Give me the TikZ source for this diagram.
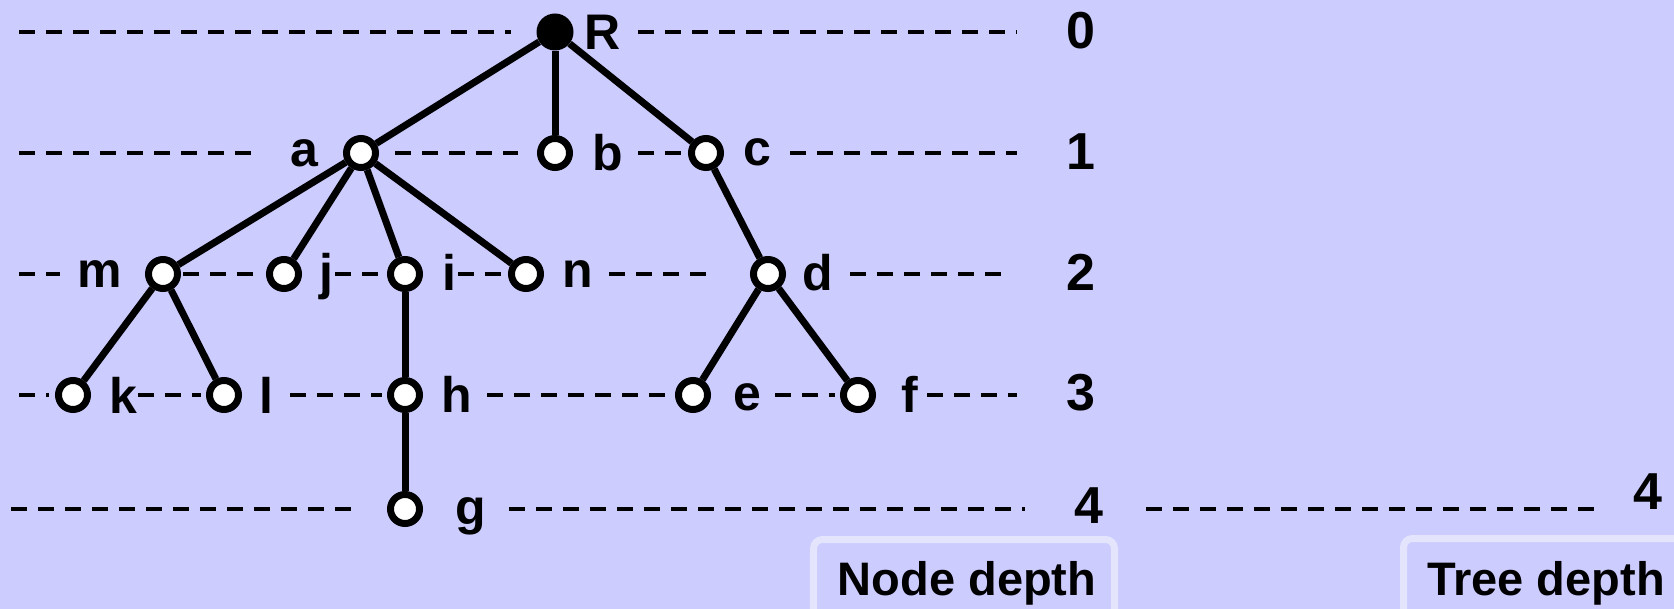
\documentclass[tikz,border=0pt]{standalone}
\usepackage{fontspec}
\setmainfont{Liberation Sans}
\usepackage{tikz}

\definecolor{lavender}{HTML}{CCCCFF}
\definecolor{boxline}{HTML}{E4E4FC}

\begin{document}
\begin{tikzpicture}[x=1pt,y=-1pt,
	vertex/.style={circle,draw,line width=7pt,fill=white,minimum size=29pt,inner sep=0pt},
	root/.style={circle,fill=black,minimum size=37pt,inner sep=0pt},
	lbl/.style={font=\fontsize{50}{60}\selectfont\bfseries,inner sep=0pt},
	depth/.style={font=\fontsize{52}{62}\selectfont\bfseries,inner sep=0pt},
	legend/.style={font=\fontsize{47}{56}\selectfont\bfseries,inner sep=0pt,anchor=base},
	guide/.style={line width=4.5pt,dash pattern=on 16pt off 11pt},
	edge/.style={line width=7pt},
	legendbox/.style={draw=boxline,line width=7pt,rounded corners=9pt,fill=lavender}]
\useasboundingbox (0,0) rectangle (1674,609);
\fill[lavender] (0,0) rectangle (1674,609);
\clip (0,0) rectangle (1674,609);

% dashed level lines
\foreach \y/\xa/\xb in {32/19/511, 32/638/1017,
		153/19/259, 153/395/518, 153/638/683, 153/790/1017,
		274/19/60, 274/183/259, 274/335/382, 274/458/504, 274/609/708, 274/850/1007,
		395/19/49, 395/138/201, 395/290/382, 395/487/680, 395/775/835, 395/927/1017,
		509/11/359, 509/509/1025, 509/1146/1598}
	\draw[guide] (\xa,\y) -- (\xb,\y);

% tree
\path (555,32) node[root] (R) {}
		(361,153) node[vertex] (a) {}
		(555,153) node[vertex] (b) {}
		(706,153) node[vertex] (c) {}
		(163,274) node[vertex] (m) {}
		(284,274) node[vertex] (j) {}
		(405,274) node[vertex] (i) {}
		(526,274) node[vertex] (n) {}
		(768,274) node[vertex] (d) {}
		(73,395) node[vertex] (k) {}
		(224,395) node[vertex] (l) {}
		(405,395) node[vertex] (h) {}
		(693,395) node[vertex] (e) {}
		(858,395) node[vertex] (f) {}
		(405,509) node[vertex] (g) {}
		;

\path (603,32) node[lbl] (labR) {R}
		(304,153) node[lbl] (laba) {a}
		(608,153) node[lbl] (labb) {b}
		(757,152) node[lbl] (labc) {c}
		(100,274) node[lbl] (labm) {m}
		(326,277) node[lbl] (labj) {j}
		(449,272) node[lbl] (labi) {i}
		(578,274) node[lbl] (labn) {n}
		(818,273) node[lbl] (labd) {d}
		(123,395) node[lbl] (labk) {k}
		(266,395) node[lbl] (labl) {l}
		(457,394) node[lbl] (labh) {h}
		(747,397) node[lbl] (labe) {e}
		(910,394) node[lbl] (labf) {f}
		(471,516) node[lbl] (labg) {g}
		;

\draw[edge] (R) -- (a);
\draw[edge] (R) -- (b);
\draw[edge] (R) -- (c);
\draw[edge] (a) -- (m);
\draw[edge] (a) -- (j);
\draw[edge] (a) -- (i);
\draw[edge] (a) -- (n);
\draw[edge] (c) -- (d);
\draw[edge] (m) -- (k);
\draw[edge] (m) -- (l);
\draw[edge] (i) -- (h);
\draw[edge] (h) -- (g);
\draw[edge] (d) -- (e);
\draw[edge] (d) -- (f);

% depth numbers
\path (1081,31) node[depth] (d0) {0}
		(1081,152) node[depth] (d1) {1}
		(1081,272) node[depth] (d2) {2}
		(1081,393) node[depth] (d3) {3}
		(1089,506) node[depth] (d4) {4}
		(1648,492) node[depth] (t4) {4}
		;

% legend boxes
\draw[legendbox] (813.5,539.5) rectangle (1114.5,680);
\draw[legendbox] (1403.5,538.5) rectangle (1720,680);
\node[legend] (nodedepth) at (967,595) {Node depth};
\node[legend] (treedepth) at (1546,595) {Tree depth};
\end{tikzpicture}
\end{document}
